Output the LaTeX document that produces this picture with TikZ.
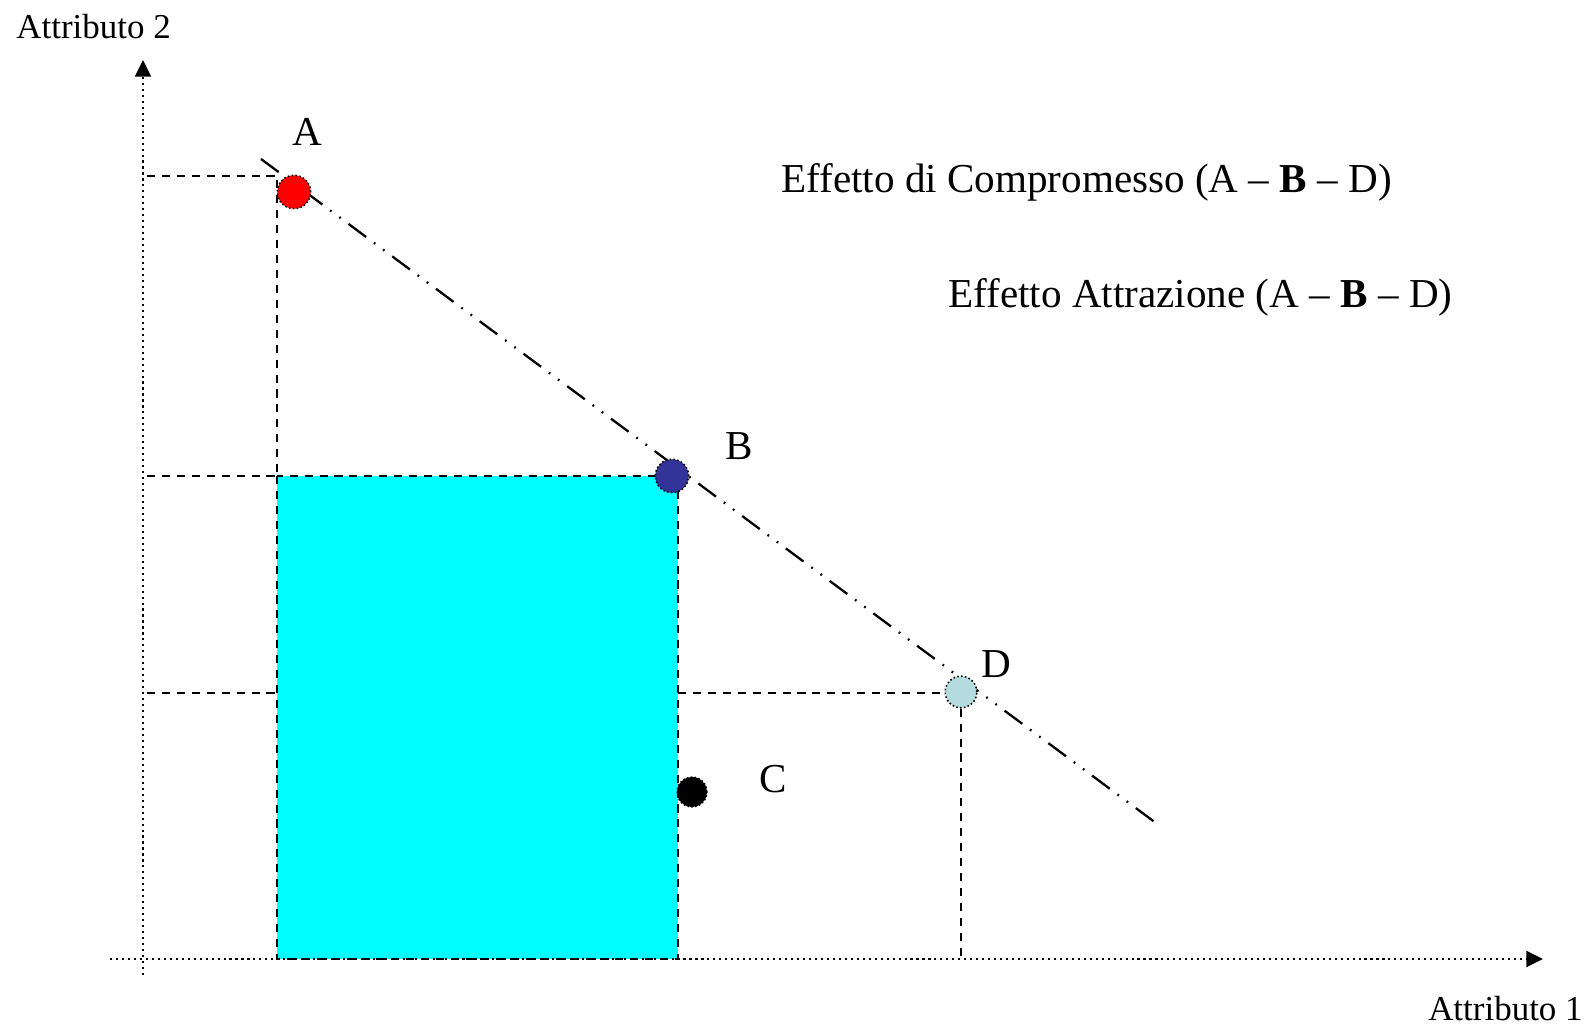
\documentclass[tikz,border=0pt]{standalone}
\usepackage{fontspec}
\setmainfont{Liberation Serif}
\usetikzlibrary{arrows.meta}
\definecolor{altRed}{HTML}{FF0000}
\definecolor{altBlue}{HTML}{333399}
\definecolor{altPale}{HTML}{B4DCDF}
\definecolor{domCyan}{HTML}{00FFFF}

\begin{document}
\begin{tikzpicture}[x=0.02cm,y=-0.02cm,
    axis/.style={line width=1.3pt,dash pattern=on 1.2pt off 2.2pt,
                 -{Triangle[length=9.5pt,width=9pt]}},
    guide/.style={line width=1.3pt,dash pattern=on 4.6pt off 3.9pt},
    trend/.style={line width=1.3pt,dash pattern=on 12.5pt off 5.5pt on 1pt off 5.5pt on 1pt off 5.5pt},
    alt/.style={circle,draw,line width=0.9pt,dash pattern=on 0.9pt off 1.3pt,
                minimum size=19pt,inner sep=0pt},
    lbl/.style={font=\fontsize{23.4}{28}\selectfont,inner sep=0pt},
    axlbl/.style={font=\fontsize{19.9}{24}\selectfont,inner sep=0pt}
  ]
  \useasboundingbox (0,0) rectangle (1589,1026);

  \coordinate (yBot)  at (143,975);
  \coordinate (yTop)  at (143,60);
  \coordinate (xLeft) at (110,959);
  \coordinate (xRight) at (1543,959);

  % dominated area of B
  \coordinate (domNW) at (277,476);
  \coordinate (domSE) at (678,959);
  \draw[guide,fill=domCyan] (domNW) rectangle (domSE);

  % projections on the axes
  \coordinate (aY)  at (147,176);
  \coordinate (aX)  at (277,176);
  \coordinate (bY)  at (147,476);
  \coordinate (dY)  at (147,693);
  \coordinate (dL)  at (277,693);
  \coordinate (dR)  at (678,693);
  \coordinate (dXY) at (961,693);
  \coordinate (dX)  at (961,959);
  \draw[guide] (aY) -- (aX) -- (domNW);
  \draw[guide] (bY) -- (domNW);
  \draw[guide] (dY) -- (dL);
  \draw[guide] (dR) -- (dXY) -- (dX);

  \coordinate (trendStart) at (261,159);
  \coordinate (trendEnd)   at (1160,826);
  \draw[trend] (trendStart) -- (trendEnd);

  \draw[axis] (yBot) -- (yTop);
  \draw[axis] (xLeft) -- (xRight);

  \node[alt,fill=altRed]  (ptA) at (294,192) {};
  \node[alt,fill=altBlue] (ptB) at (672,476) {};
  \node[alt,fill=black,minimum size=17pt] (ptC) at (692,792) {};
  \node[alt,fill=altPale,minimum size=18pt] (ptD) at (961,692) {};

  \node[lbl] (labA) at (307,132) {A};
  \node[lbl] (labB) at (739,446) {B};
  \node[lbl] (labC) at (773,779) {C};
  \node[lbl] (labD) at (996,664) {D};

  \node[lbl,anchor=west] (compromise) at (781,182)
    {Effetto di Compromesso (A -- \textbf{B} -- D)};
  \node[lbl,anchor=west] (attraction) at (948,297)
    {Effetto Attrazione (A -- \textbf{B} -- D)};

  \node[axlbl,anchor=west] (attr2) at (16,27) {Attributo 2};
  \node[axlbl,anchor=east] (attr1) at (1583,1009) {Attributo 1};
\end{tikzpicture}
\end{document}
